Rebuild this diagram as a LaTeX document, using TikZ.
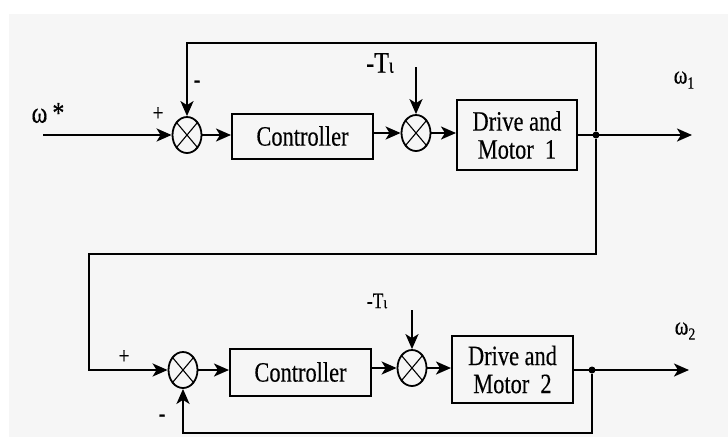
\documentclass[tikz,border=0pt]{standalone}
\usepackage{fontspec}
\setmainfont{Liberation Serif}
\newfontfamily\cond[FakeStretch=0.8,FakeBold=0.3]{Liberation Serif}
\usetikzlibrary{shapes.geometric,arrows.meta}
\definecolor{bgray}{HTML}{F6F6F6}
\tikzset{
  sumnode/.style={ellipse, draw, line width=1.8pt, minimum width=29pt, minimum height=36pt, inner sep=0pt},
  blk/.style={draw, line width=2pt, inner sep=0pt, align=center, font=\cond\fontsize{28}{28}\selectfont},
  sig/.style={line width=2.2pt},
  arr/.style={sig, -{Stealth[length=15pt,width=13pt,inset=4pt]}},
  lbl/.style={inner sep=0pt, font=\cond\fontsize{30}{30}\selectfont},
  sgn/.style={inner sep=0pt, font=\cond\fontsize{24}{24}\selectfont},
  dot/.style={circle, fill, inner sep=0pt, minimum size=7pt}
}
\newcommand{\crossin}[1]{\draw[line width=1.1pt] (#1.50) -- (#1.230) (#1.130) -- (#1.310);}
\begin{document}
\begin{tikzpicture}[x=1pt,y=-1pt]
\useasboundingbox (0,0) rectangle (728,437);
\fill[white] (0,0) rectangle (728,437);
\fill[bgray] (9,14) rectangle (728,437);

% top loop
\coordinate (in1) at (43,135);
\node[sumnode] (s1) at (187,135) {};
\crossin{s1}
\node[blk, minimum width=141pt, minimum height=45pt] (c1) at (302.5,136) {Controller};
\node[sumnode] (s2) at (416,133) {};
\crossin{s2}
\node[blk, minimum width=120pt, minimum height=70pt] (d1) at (517,135) {Drive and\\Motor\ \ 1};
\node[dot] (j1) at (596,135) {};
\coordinate (o1) at (692,135);
\coordinate (ft) at (596,43);
\coordinate (tq1) at (416,67);

\draw[arr] (in1) -- (s1.west);
\draw[arr] (s1.east) -- (c1.west |- s1.east);
\draw[arr] (c1.east |- s2.west) -- (s2.west);
\draw[arr] (s2.east) -- (d1.west |- s2.east);
\draw[arr] (d1.east) -- (o1);
\draw[arr] (j1) -- (ft) -| (s1.north);
\draw[arr] (tq1) -- (s2.north);

\node[lbl] (w0) at (48,113) {ω\,*};
\node[sgn] (p1) at (158,114) {+};
\node[sgn] (m1) at (197,84) {-};
\node[lbl] (t1) at (380,63) {-T\raisebox{0pt}{\fontsize{22}{22}\selectfont ι}};
\node[lbl, font=\cond\fontsize{26}{26}\selectfont] (w1) at (684,80) {ω\raisebox{-5pt}{\fontsize{17}{17}\selectfont 1}};

% connection
\coordinate (m1a) at (596,254);
\coordinate (m2a) at (89,370);
\node[sumnode] (s3) at (183,370) {};
\crossin{s3}
\draw[arr] (j1) -- (m1a) -| (m2a) -- (s3.west);

% bottom loop
\node[blk, minimum width=141pt, minimum height=47pt] (c2) at (300.5,372) {Controller};
\node[sumnode] (s4) at (412,368) {};
\crossin{s4}
\node[blk, minimum width=121pt, minimum height=67pt] (d2) at (512.5,369.5) {Drive and\\Motor\ \ 2};
\node[dot] (j2) at (592,370) {};
\coordinate (o2) at (689,370);
\coordinate (fb) at (592,433);
\coordinate (tq2) at (412,310);

\draw[arr] (s3.east) -- (c2.west |- s3.east);
\draw[arr] (c2.east |- s4.west) -- (s4.west);
\draw[arr] (s4.east) -- (d2.west |- s4.east);
\draw[arr] (d2.east |- j2) -- (o2);
\draw[arr] (j2) -- (fb) -| (s3.south);
\draw[arr] (tq2) -- (s4.north);

\node[sgn] (p2) at (124,357) {+};
\node[sgn] (m2) at (162,418) {-};
\node[lbl, font=\cond\fontsize{22}{22}\selectfont] (t2) at (377,301) {-T\raisebox{0pt}{\fontsize{17}{17}\selectfont ι}};
\node[lbl, font=\cond\fontsize{26}{26}\selectfont] (w2) at (685,331) {ω\raisebox{-5pt}{\fontsize{17}{17}\selectfont 2}};
\end{tikzpicture}
\end{document}
